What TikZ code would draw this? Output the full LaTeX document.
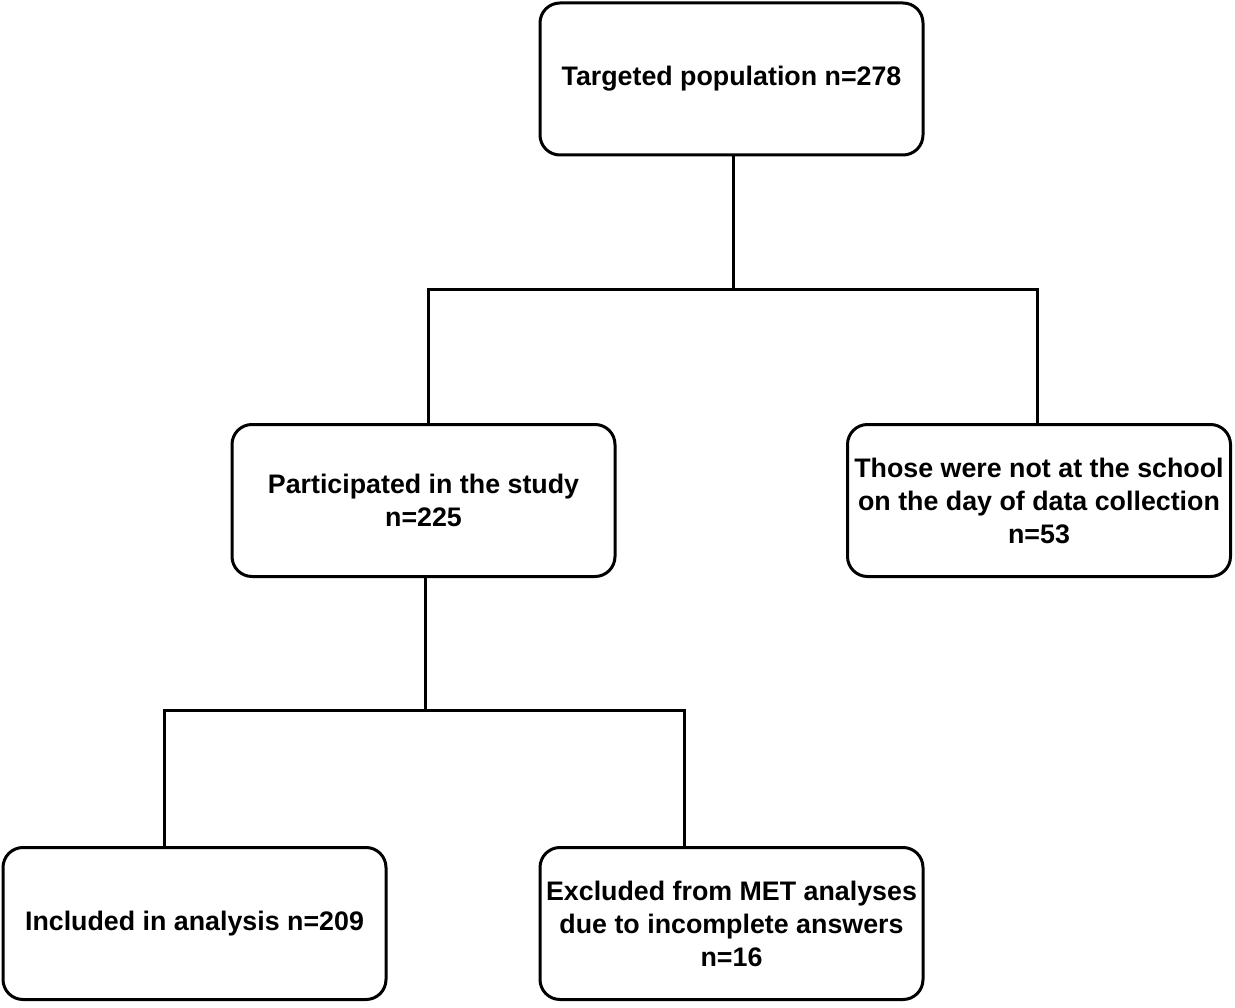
\documentclass[tikz,border=0pt]{standalone}
\usepackage{fontspec}
\setmainfont{Liberation Sans}
\usetikzlibrary{positioning}

\tikzset{
  flowbox/.style={draw, line width=3pt, rounded corners=20pt,
    minimum width=383pt, minimum height=152pt, inner sep=0pt,
    align=center, font=\fontsize{26.8}{33}\selectfont\bfseries},
  flowline/.style={line width=3pt}
}

\begin{document}
\begin{tikzpicture}[x=1pt,y=-1pt]
\useasboundingbox (0,0) rectangle (1235,1008);

% boxes
\node[flowbox] (target) at (731.5,79) {Targeted population n=278};
\node[flowbox] (part) at (423.5,500.5) {Participated in the study\\n=225};
\node[flowbox] (absent) at (1039,500.5) {Those were not at the school\\on the day of data collection\\n=53};
\node[flowbox] (incl) at (194.5,923.5) {Included in analysis n=209};
\node[flowbox] (excl) at (731.5,923.5) {Excluded from MET analyses\\due to incomplete answers\\n=16};

% connectors
\coordinate (fork1) at (733,290);
\coordinate (fork2) at (425,710);
\draw[flowline] (target.south -| fork1) -- (fork1);
\draw[flowline] ([xshift=4.5pt]part.north) |- (fork1) -| ([xshift=-2pt]absent.north);
\draw[flowline] (part.south -| fork2) -- (fork2);
\draw[flowline] ([xshift=-30.5pt]incl.north) |- (fork2) -| ([xshift=-47.5pt]excl.north);

\end{tikzpicture}
\end{document}
